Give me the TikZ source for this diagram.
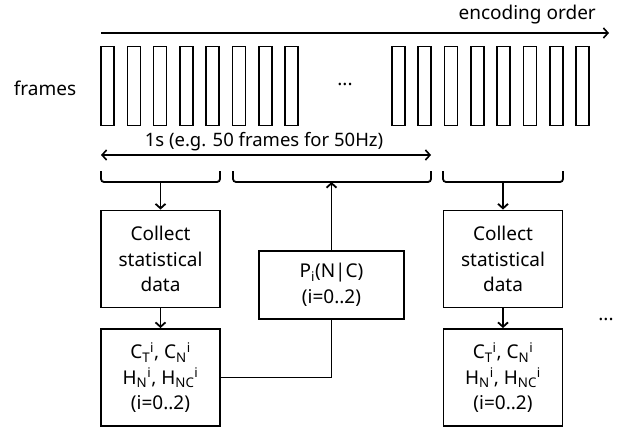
\documentclass[tikz,border=0pt]{standalone}
\usepackage{fontspec}
\setmainfont{Noto Sans}
\usetikzlibrary{arrows.meta}
\tikzset{
  box/.style={draw, line width=1.9pt, minimum width=119pt, minimum height=97pt,
    inner sep=0pt, align=center, font=\fontsize{19}{25.5}\selectfont},
  frm/.style={draw, line width=1.6pt, minimum width=13pt, minimum height=79pt, inner sep=0pt},
  tip/.tip={Straight Barb[length=4.5pt,width=10pt]},
  arr/.style={line width=1.8pt, -tip},
  conn/.style={line width=1.8pt},
  brace/.style={line width=1.8pt, rounded corners=3pt},
  lbl/.style={font=\fontsize{19}{23}\selectfont, inner sep=0pt}
}
\begin{document}
\begin{tikzpicture}[x=1pt,y=-1pt]
\useasboundingbox (0,0) rectangle (626,428);

% encoding order arrow
\coordinate (eoA) at (101,33);
\coordinate (eoB) at (609,33);
\draw[line width=1.6pt, -tip] (eoA) -- (eoB);
\node[lbl, anchor=east] (eolabel) at (596,15) {encoding order};

% frames
\node[lbl] (frameslabel) at (45,88) {frames};
\foreach \k in {0,...,7} {
  \node[frm] (fl\k) at ({107.5+26.3*\k},86) {};
  \node[frm] (fr\k) at ({398.4+26.3*\k},86) {};
}
\node[lbl] (fdots) at (345,84) {...};

% one second span
\coordinate (spA) at (101,155);
\coordinate (spB) at (431,155);
\draw[line width=1.6pt, tip-tip] (spA) -- (spB);
\node[lbl, font=\fontsize{18.5}{22}\selectfont] (splabel) at (264,142) {1s (e.g. 50 frames for 50Hz)};

% braces under the frames
\draw[brace] (101,171) -- (101,182) -- (220,182) -- (220,171);
\draw[brace] (233,171) -- (233,182) -- (431,182) -- (431,171);
\draw[brace] (443,171) -- (443,182) -- (563,182) -- (563,171);
\coordinate (bL) at (160.5,182);
\coordinate (bM) at (331.5,182);
\coordinate (bR) at (503,182);

% boxes
\node[box] (L1) at (160.5,259) {Collect\\statistical\\data};
\node[box] (L2) at (160.5,377.5) {C\textsubscript{T}\textsuperscript{i}, C\textsubscript{N}\textsuperscript{i}\\H\textsubscript{N}\textsuperscript{i}, H\textsubscript{NC}\textsuperscript{i}\\(i=0..2)};
\node[box, minimum width=145pt, minimum height=68pt] (P) at (331.5,285) {P\textsubscript{i}(N|C)\\(i=0..2)};
\node[box] (R1) at (503,259) {Collect\\statistical\\data};
\node[box] (R2) at (503,377.5) {C\textsubscript{T}\textsuperscript{i}, C\textsubscript{N}\textsuperscript{i}\\H\textsubscript{N}\textsuperscript{i}, H\textsubscript{NC}\textsuperscript{i}\\(i=0..2)};
\node[lbl] (rdots) at (606,319) {...};

% connectors
\draw[arr] (bL) -- (L1.north);
\draw[arr] (L1) -- (L2);
\draw[arr] (bR) -- (R1.north);
\draw[arr] (R1) -- (R2);
\draw[arr] (P.north) -- (bM);
\draw[conn] (L2.east) -- (L2.east -| P.south) -- (P.south);
\end{tikzpicture}
\end{document}
